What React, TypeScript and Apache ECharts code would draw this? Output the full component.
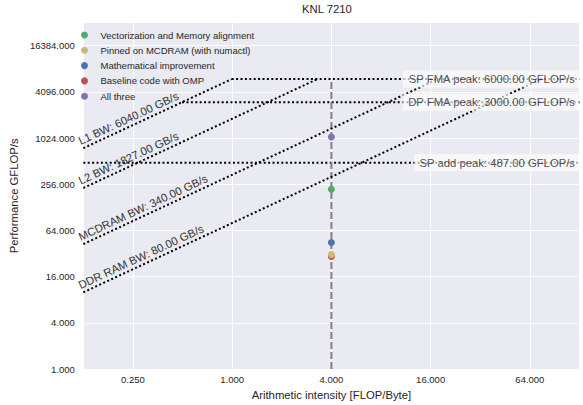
import React, { useEffect, useRef } from 'react';
import * as echarts from 'echarts';

const TITLE = 'KNL 7210';
const X_NAME = 'Arithmetic intensity [FLOP/Byte]';
const Y_NAME = 'Performance GFLOP/s';

const xRange = [0.125, 128];
const yRange = [1, 32768];

const bwNames = ['L1', 'L2', 'MCDRAM', 'DDR RAM'];
const bwValues = [6040, 1827, 340, 80];

const peakNames = ['SP FMA', 'DP FMA', 'SP add'];
const peakValues = [6000, 3000, 487];

const appIntensity = 4;

const pointNames = [
  'Vectorization and Memory alignment',
  'Pinned on MCDRAM (with numactl)',
  'Mathematical improvement',
  'Baseline code with OMP',
  'All three',
];
const pointIntensity = [4, 4, 4, 4, 4];
const pointPerf = [220, 31, 44.5, 29.3, 1055];
const pointColors = ['#55A868', '#CCB974', '#4C72B0', '#C44E52', '#8172B2'];
const drawOrder = [3, 1, 2, 0, 4];

export default function App() {
  const ref = useRef<HTMLDivElement>(null);

  useEffect(() => {
    const chart = echarts.init(ref.current!, null, { renderer: 'svg' });
    const font = 'Liberation Sans, Arial, sans-serif';
    const dark = '#262626';
    const maxPeak = Math.max(...peakValues);
    const maxBW = Math.max(...bwValues);
    const roofStyle = { color: '#000000', width: 2, type: [2, 2.4] as any };

    const series: any[] = [];
    series.push({
      type: 'line',
      name: 'bandwidth roofs',
      data: [],
      silent: true,
      z: 3,
      markLine: {
        silent: true,
        symbol: ['none', 'none'],
        animation: false,
        lineStyle: roofStyle,
        label: {
          show: true,
          position: 'insideStartTop',
          distance: [-1, 2.5],
          color: '#333333',
          fontSize: 11.3,
          fontFamily: font,
        },
        data: bwValues.map((b, i) => [
          {
            coord: [xRange[0], b * xRange[0]],
            label: { formatter: `${bwNames[i]} BW: ${b.toFixed(2)} GB/s` },
          },
          { coord: [maxPeak / b, maxPeak] },
        ]),
      },
    });
    peakNames.forEach((n, i) => {
      series.push({
        type: 'line',
        name: n + ' peak',
        data: [
          [Math.max(xRange[0], peakValues[i] / maxBW), peakValues[i]],
          [xRange[1], peakValues[i]],
        ],
        symbol: 'none',
        lineStyle: roofStyle,
        silent: true,
        z: 3,
      });
    });
    series.push({
      type: 'line',
      name: 'app',
      data: [
        [appIntensity, yRange[0]],
        [appIntensity, maxPeak],
      ],
      symbol: 'none',
      lineStyle: { color: '#808080', width: 2, type: [7, 3] },
      silent: true,
      z: 4,
    });
    series.push({
      type: 'scatter',
      name: 'peakLabels',
      symbolSize: 1,
      itemStyle: { color: 'rgba(0,0,0,0)' },
      clip: false,
      silent: true,
      z: 5,
      data: peakValues.map((p, i) => ({
        value: [xRange[1], p],
        label: { formatter: `${peakNames[i]} peak: ${p.toFixed(2)} GFLOP/s` },
      })),
      label: {
        show: true,
        position: 'left',
        distance: 0,
        color: dark,
        fontSize: 11.3,
        fontFamily: font,
        backgroundColor: 'rgba(255,255,255,0.85)',
        padding: [3, 4, 3, 5],
      },
    });
    drawOrder.forEach((i) => {
      series.push({
        type: 'scatter',
        name: pointNames[i],
        data: [[pointIntensity[i], pointPerf[i]]],
        symbol: 'circle',
        symbolSize: 7,
        itemStyle: { color: pointColors[i], opacity: 1 },
        z: 6,
      });
    });

    const axisCommon = {
      axisLine: { show: false },
      axisTick: { show: false },
      splitLine: { show: true, lineStyle: { color: '#ffffff', width: 1 } },
      nameTextStyle: { color: dark, fontSize: 11.3, fontFamily: font },
    };

    chart.setOption({
      animation: false,
      textStyle: { fontFamily: font },
      title: {
        text: TITLE,
        left: 302,
        top: 3,
        padding: 0,
        textStyle: { color: dark, fontSize: 11.3, fontWeight: 'normal', fontFamily: font },
      },
      legend: {
        data: pointNames.map((n) => ({ name: n })),
        orient: 'vertical',
        left: 81,
        top: 29,
        padding: 0,
        itemWidth: 22,
        itemHeight: 7,
        itemGap: 3.3,
        icon: 'circle',
        selectedMode: false,
        textStyle: { fontSize: 9.5, color: dark, lineHeight: 12, fontFamily: font },
      },
      grid: {
        left: 74.5,
        right: 3.5,
        top: 22.5,
        bottom: 31.7,
        show: true,
        backgroundColor: '#EAEAF2',
        borderWidth: 0,
      },
      xAxis: {
        type: 'log',
        logBase: 4,
        min: xRange[0],
        max: xRange[1],
        splitNumber: 5,
        name: X_NAME,
        nameLocation: 'middle',
        nameGap: 18,
        ...axisCommon,
        axisLabel: {
          color: dark,
          fontSize: 9.5,
          fontFamily: font,
          margin: 5,
          showMinLabel: false,
          showMaxLabel: false,
          formatter: (v: number) => v.toFixed(3),
        },
      },
      yAxis: {
        type: 'log',
        logBase: 4,
        min: yRange[0],
        max: yRange[1],
        splitNumber: 5,
        name: Y_NAME,
        nameLocation: 'middle',
        nameGap: 56,
        ...axisCommon,
        axisLabel: {
          color: dark,
          fontSize: 9.5,
          fontFamily: font,
          margin: 8.5,
          showMinLabel: true,
          showMaxLabel: false,
          formatter: (v: number) => v.toFixed(3),
        },
      },
      series,
    });

    return () => chart.dispose();
  }, []);

  return (
    <div
      ref={ref}
      style={{ position: 'absolute', left: 0, top: 0, width: 583, height: 405 }}
    />
  );
}
